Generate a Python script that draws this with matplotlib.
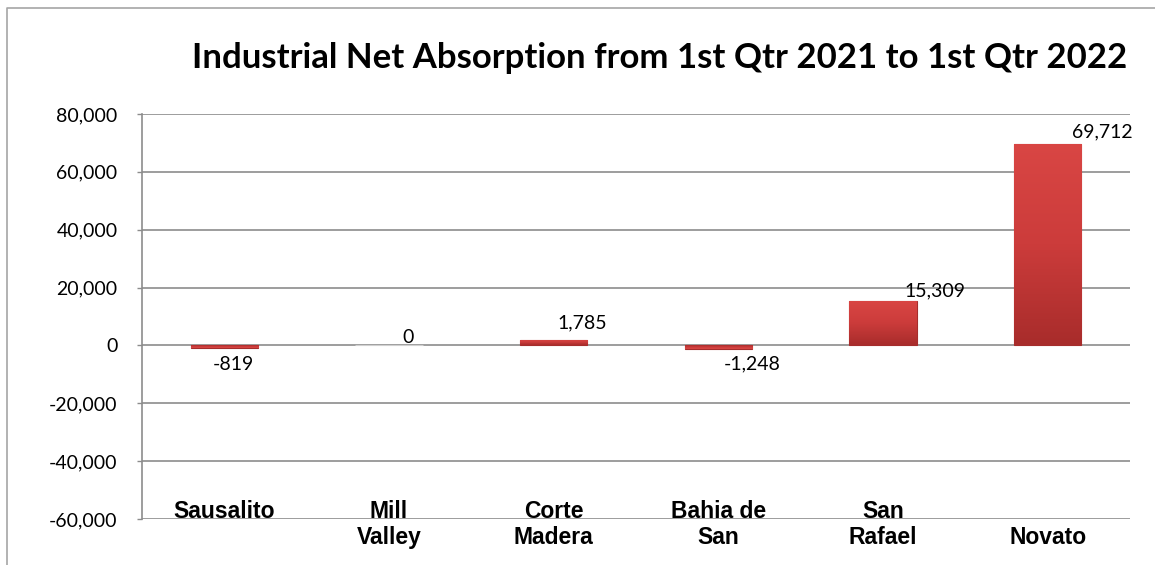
import matplotlib.pyplot as plt
import numpy as np
from matplotlib.colors import LinearSegmentedColormap
from matplotlib.lines import Line2D

cities = ['Sausalito', 'Mill\nValley', 'Corte\nMadera', 'Bahia de\nSan', 'San\nRafael', '\nNovato']
absorption = [-819, 0, 1785, -1248, 15309, 69712]
y_ticks = [-60000, -40000, -20000, 0, 20000, 40000, 60000, 80000]

# where Excel put each value label, in pixels from the bar end
label_offsets = [(9, -17), (19, 8), (29, 17), (34, -15), (52, 10), (55, 12)]

grid_grey = '#8c8c8c'

fig = plt.figure(figsize=(11.55, 5.65), dpi=100)
ax = fig.add_axes([142 / 1155, 1 - 519 / 565, (1130 - 142) / 1155, 405 / 565])

x = np.arange(len(cities))
edges = ['#d0d0d0' if v == 0 else '#a52d2c' for v in absorption]
bars = ax.bar(x, absorption, width=0.41, color='#c93a39', edgecolor=edges, linewidth=0.8, zorder=3)

# simple top-to-bottom shading on the bars
red_cmap = LinearSegmentedColormap.from_list('bar_red', ['#a82c2b', '#cc3c3b', '#d94644'])
grad = np.linspace(0, 1, 256).reshape(-1, 1)
for bar in bars:
    h = bar.get_height()
    if h == 0:
        continue
    x0 = bar.get_x()
    x1 = x0 + bar.get_width()
    lo, hi = min(0, h), max(0, h)
    img = ax.imshow(grad if h > 0 else grad[::-1], extent=[x0, x1, lo, hi], origin='lower',
                    aspect='auto', cmap=red_cmap, zorder=3.5)
    img.set_clip_path(bar)

for bar, val, (dx, dy) in zip(bars, absorption, label_offsets):
    ax.annotate(f'{val:,}', xy=(bar.get_x() + bar.get_width() / 2, val), xytext=(dx, dy),
                textcoords='offset pixels', ha='center', va='center',
                fontsize=14, family='Lato', color='black', zorder=5)

ax.set_xlim(-0.5, len(cities) - 0.5)
ax.set_ylim(-60000, 80000)
ax.set_yticks(y_ticks)
ax.set_yticklabels([f'{v:,}' for v in y_ticks], family='Lato', fontsize=14)
ax.set_xticks(x)
ax.set_xticklabels(cities, family='Liberation Sans', fontweight='bold', fontsize=16.5)
ax.tick_params(axis='x', length=0, pad=-14)
ax.tick_params(axis='y', length=3.6, width=1, color=grid_grey, pad=14)

ax.grid(axis='y', color=grid_grey, linewidth=1.2, zorder=0)
ax.set_axisbelow(True)
for side in ['top', 'right', 'bottom']:
    ax.spines[side].set_visible(False)
ax.spines['left'].set_color(grid_grey)
ax.spines['left'].set_linewidth(1.2)

fig.text(660 / 1155, 1 - 68 / 565, 'Industrial Net Absorption from 1st Qtr 2021 to 1st Qtr 2022',
         ha='center', va='baseline', fontsize=25, fontweight='bold', family='Lato')

# outer chart frame, only its left and top edges are in view
fig.add_artist(Line2D([7 / 1155, 7 / 1155, 1], [0, 1 - 8 / 565, 1 - 8 / 565],
                      transform=fig.transFigure, color='#a6a6a6', linewidth=1.2))

plt.savefig('out.png', dpi=100)
